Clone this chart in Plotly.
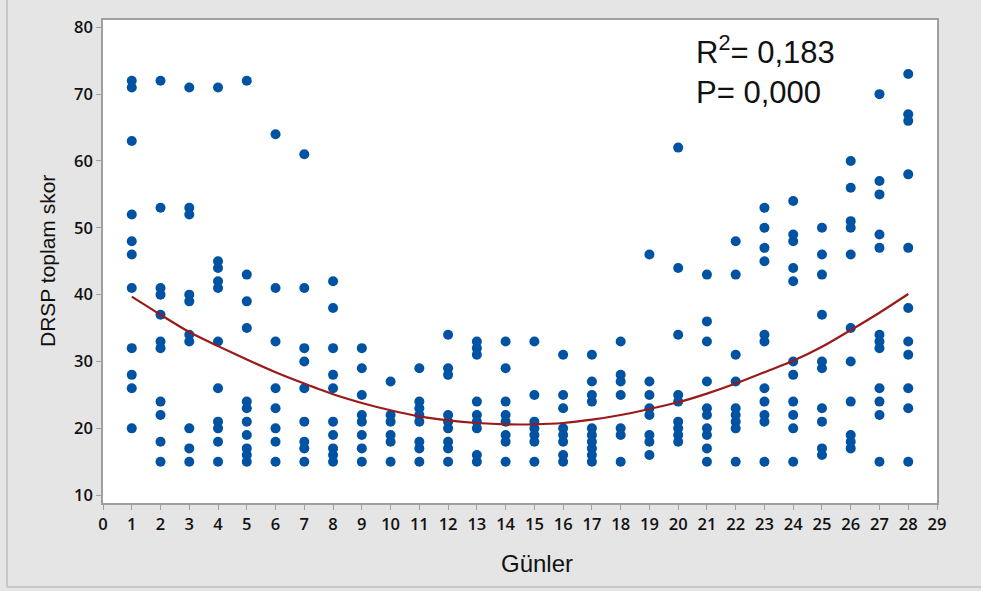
import plotly.graph_objects as go

# DRSP total scores per day
day01 = [72, 71, 63, 52, 48, 46, 41, 32, 28, 26, 20]
day02 = [72, 53, 41, 40, 37, 33, 32, 24, 22, 18, 15]
day03 = [71, 53, 52, 40, 39, 34, 33, 20, 17, 15]
day04 = [71, 45, 44, 42, 41, 33, 26, 21, 20, 18, 15]
day05 = [72, 43, 39, 35, 24, 23, 21, 19, 17, 16, 15]
day06 = [64, 41, 33, 26, 23, 20, 18, 15]
day07 = [61, 41, 32, 30, 26, 21, 18, 17, 15]
day08 = [42, 38, 32, 28, 26, 21, 19, 17, 16, 15]
day09 = [32, 29, 25, 22, 21, 19, 17, 15]
day10 = [27, 22, 21, 19, 18, 15]
day11 = [29, 24, 23, 22, 21, 18, 17, 15]
day12 = [34, 29, 28, 22, 21, 20, 18, 17, 15]
day13 = [33, 32, 31, 24, 22, 21, 20, 16, 15]
day14 = [33, 29, 24, 22, 21, 19, 18, 15]
day15 = [33, 25, 21, 20, 19, 18, 15]
day16 = [31, 25, 23, 20, 19, 18, 16, 15]
day17 = [31, 27, 25, 24, 20, 19, 18, 17, 16, 15]
day18 = [33, 28, 27, 25, 20, 19, 15]
day19 = [46, 27, 25, 23, 22, 19, 18, 16]
day20 = [62, 44, 34, 25, 24, 21, 20, 19, 18]
day21 = [43, 36, 33, 27, 23, 22, 20, 19, 17, 15]
day22 = [48, 43, 31, 27, 23, 22, 21, 20, 15]
day23 = [53, 50, 47, 45, 34, 33, 26, 24, 22, 21, 15]
day24 = [54, 49, 48, 44, 42, 30, 28, 24, 22, 20, 15]
day25 = [50, 46, 43, 37, 30, 29, 23, 21, 17, 16]
day26 = [60, 56, 51, 50, 46, 35, 30, 24, 19, 18, 17]
day27 = [70, 57, 55, 49, 47, 34, 33, 32, 26, 24, 22, 15]
day28 = [73, 67, 66, 58, 47, 38, 33, 31, 26, 23, 15]

# Quadratic fit line values read at each day
fit_days = list(range(1, 29))
fit_values = [39.7, 37.0, 34.4, 32.3, 30.3, 28.4, 26.7, 25.1, 23.8, 22.7,
              21.8, 21.2, 20.8, 20.6, 20.6, 20.8, 21.3, 22.0, 22.9, 23.9,
              25.2, 26.7, 28.4, 30.1, 32.2, 34.7, 37.3, 40.1]

x_ticks = list(range(0, 30))
y_ticks = [10, 20, 30, 40, 50, 60, 70, 80]

annotation_lines = ["R<sup>2</sup>= 0,183", "P= 0,000"]
x_title = "Günler"
y_title = "DRSP toplam skor"

all_days = [day01, day02, day03, day04, day05, day06, day07, day08, day09, day10,
            day11, day12, day13, day14, day15, day16, day17, day18, day19, day20,
            day21, day22, day23, day24, day25, day26, day27, day28]
xs, ys = [], []
for i, vals in enumerate(all_days, start=1):
    xs.extend([i] * len(vals))
    ys.extend(vals)

fig = go.Figure()
fig.add_trace(go.Scatter(x=xs, y=ys, mode="markers",
                         marker=dict(color="#0052a3", size=10, line=dict(width=0)),
                         hoverinfo="x+y", showlegend=False))
fig.add_trace(go.Scatter(x=fit_days, y=fit_values, mode="lines",
                         line=dict(color="#9a1a1a", width=2.2, shape="spline", smoothing=0.8),
                         showlegend=False))

W, H = 981, 591
L, R, T, B = 103, 44, 20, 88
PW, PH = W - L - R, H - T - B


def px_x(x):
    return (x - L) / PW


def px_y(y):
    return 1 - (y - T) / PH


tick_font = dict(family="Open Sans, DejaVu Sans, sans-serif", size=16.5, color="#111111", weight=600)
fig.update_layout(
    width=W, height=H,
    margin=dict(l=L, r=R, t=T, b=B),
    paper_bgcolor="#e5e5e5",
    plot_bgcolor="#ffffff",
    xaxis=dict(range=[0, 29], tickvals=x_ticks, ticks="outside", ticklen=5,
               tickcolor="#a0a0a0", linecolor="#a0a0a0", linewidth=1.5, mirror=True,
               showgrid=False, zeroline=False, tickfont=tick_font),
    yaxis=dict(range=[8.83, 81.09], tickvals=y_ticks, ticks="outside", ticklen=5,
               tickcolor="#a0a0a0", linecolor="#a0a0a0", linewidth=1.5, mirror=True,
               showgrid=False, zeroline=False, tickfont=tick_font),
    font=dict(family="Liberation Sans, Arial, sans-serif"),
    showlegend=False,
)

fig.add_annotation(text=x_title, xref="paper", yref="paper", x=px_x(537), y=px_y(563),
                   showarrow=False, xanchor="center", yanchor="middle",
                   font=dict(family="Liberation Sans, Arial, sans-serif", size=24, color="#111111"))
fig.add_annotation(text=y_title, xref="paper", yref="paper", x=px_x(47), y=px_y(261),
                   showarrow=False, textangle=-90, xanchor="center", yanchor="middle",
                   font=dict(family="Liberation Sans, Arial, sans-serif", size=21, color="#111111"))
fig.add_annotation(text="<br>".join(annotation_lines), xref="paper", yref="paper",
                   x=px_x(694), y=px_y(28), showarrow=False,
                   xanchor="left", yanchor="top", align="left",
                   font=dict(family="Liberation Sans, Arial, sans-serif", size=31, color="#111111"))

# outer frame lines (left and bottom)
fig.add_shape(type="line", xref="paper", yref="paper",
              x0=px_x(7), x1=px_x(7), y0=px_y(587), y1=px_y(-5),
              line=dict(color="#c8c8c8", width=2))
fig.add_shape(type="line", xref="paper", yref="paper",
              x0=px_x(7), x1=px_x(990), y0=px_y(587), y1=px_y(587),
              line=dict(color="#c8c8c8", width=2))

post = (
    "var s=document.createElement('style');"
    "s.textContent='html,body{margin:0;padding:0;overflow:hidden;background:#e5e5e5;}"
    "body>div{display:block;line-height:0;}';"
    "document.head.appendChild(s);"
)
fig.write_html("out.html", config={"displayModeBar": False}, post_script=post)
